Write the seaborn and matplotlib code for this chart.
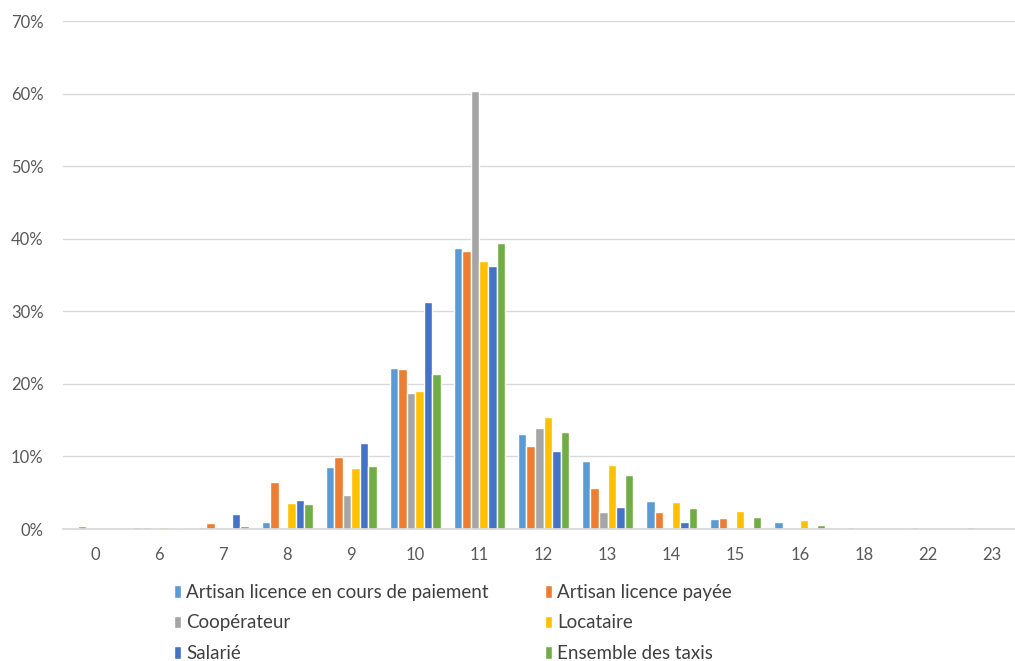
import pandas as pd
import seaborn as sns
import matplotlib.pyplot as plt
from matplotlib.ticker import PercentFormatter

sns.set_theme(style="white")
plt.rcParams['font.family'] = ['Lato', 'DejaVu Sans']

heures = ['0', '6', '7', '8', '9', '10', '11', '12', '13', '14', '15', '16', '18', '22', '23']

artisan_en_cours = [0, 0.3, 0.3, 0.9, 8.5, 22.2, 38.7, 13.1, 9.4, 3.9, 1.4, 1.0, 0, 0, 0.3]
artisan_payee    = [0.4, 0.3, 0.8, 6.5, 9.9, 22.1, 38.3, 11.4, 5.7, 2.3, 1.5, 0, 0.3, 0.3, 0]
cooperateur      = [0, 0, 0, 0, 4.7, 18.7, 60.4, 13.9, 2.3, 0, 0, 0, 0, 0, 0]
locataire        = [0, 0.3, 0, 3.6, 8.4, 19.0, 36.9, 15.4, 8.8, 3.7, 2.5, 1.2, 0, 0, 0]
salarie          = [0, 0, 2.0, 4.0, 11.8, 31.3, 36.2, 10.7, 3.0, 1.0, 0, 0, 0, 0, 0]
ensemble         = [0, 0.2, 0.4, 3.4, 8.7, 21.4, 39.4, 13.4, 7.4, 2.9, 1.6, 0.6, 0, 0, 0]

series = {
    'Artisan licence en cours de paiement': artisan_en_cours,
    'Artisan licence payée': artisan_payee,
    'Coopérateur': cooperateur,
    'Locataire': locataire,
    'Salarié': salarie,
    'Ensemble des taxis': ensemble,
}
couleurs = ['#5B9BD5', '#ED7D31', '#A5A5A5', '#FFC000', '#4472C4', '#70AD47']

df = pd.DataFrame([
    {'heure': h, 'statut': nom, 'part': v}
    for nom, vals in series.items()
    for h, v in zip(heures, vals)
])

fig = plt.figure(figsize=(10.15, 6.61), dpi=100)
ax = fig.add_axes([63 / 1015, 1 - 529 / 661, (1015 - 63) / 1015, (529 - 21) / 661])

sns.barplot(data=df, x='heure', y='part', hue='statut', order=heures,
            hue_order=list(series.keys()), palette=couleurs, width=0.8,
            saturation=1, errorbar=None, ax=ax)

ax.set_ylim(0, 70)
ax.set_yticks(range(0, 71, 10))
ax.yaxis.set_major_formatter(PercentFormatter(decimals=0))
ax.set_xlim(-0.5, 14.5 - 9 / 64)
ax.set_xlabel('')
ax.set_ylabel('')
ax.grid(axis='y', color='#D9D9D9', linewidth=1)
ax.set_axisbelow(True)
for s in ['top', 'right', 'left']:
    ax.spines[s].set_visible(False)
ax.spines['bottom'].set_color('#D9D9D9')
ax.tick_params(axis='both', length=0, labelsize=12, colors='#595959')
ax.tick_params(axis='y', pad=14)
ax.tick_params(axis='x', pad=13)

handles, labels = ax.get_legend_handles_labels()
ax.get_legend().remove()
ordre = [0, 2, 4, 1, 3, 5]
fig.legend([handles[i] for i in ordre], [labels[i] for i in ordre],
           ncol=2, loc='upper left', bbox_to_anchor=(157 / 1015, 1 - 567 / 661),
           frameon=False, fontsize=13.5, labelcolor='#404040',
           handlelength=0.4, handleheight=0.65, handletextpad=0.25,
           columnspacing=3.0, labelspacing=0.72)

fig.savefig('out.png', dpi=100)
